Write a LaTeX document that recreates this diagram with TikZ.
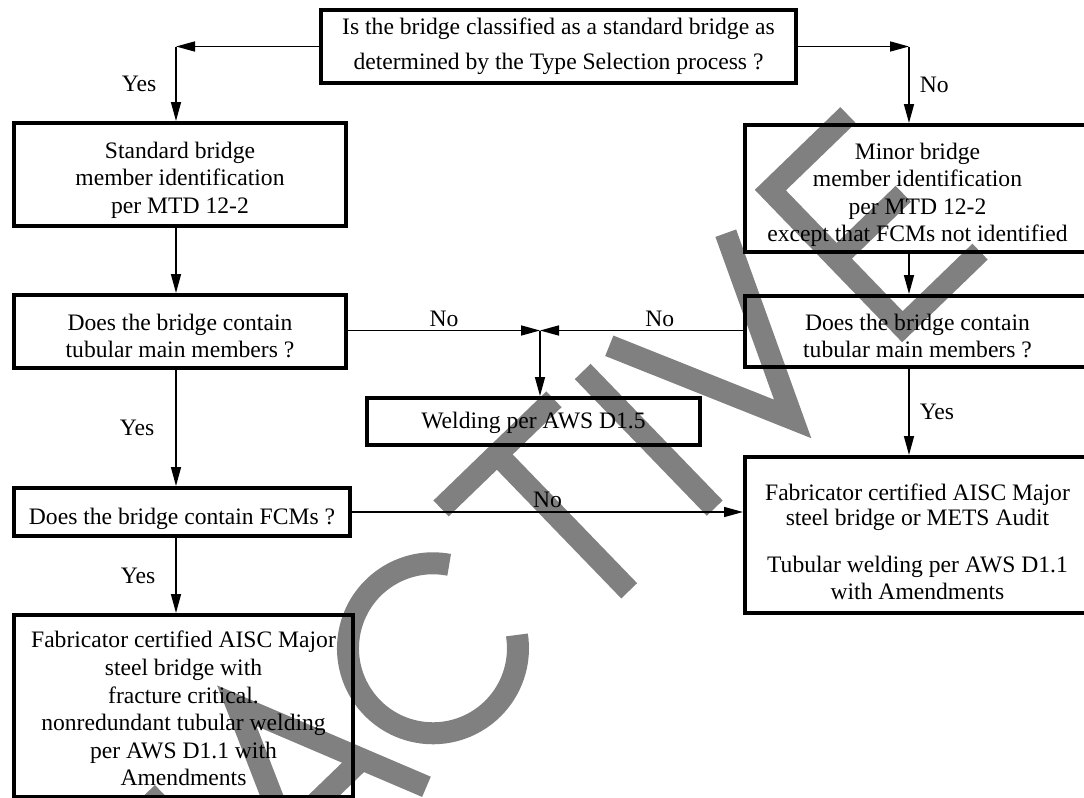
\documentclass[tikz,border=0pt]{standalone}
\usepackage{fontspec}
\setmainfont{Liberation Serif}
\usetikzlibrary{arrows.meta}
\definecolor{wmgray}{RGB}{128,128,128}
% invisible strut that pushes the text of a box down
\newcommand{\dropline}[1]{\rule{0pt}{#1}}

\begin{document}
\begin{tikzpicture}[x=0.5pt, y=-0.5pt,
  font=\fontsize{11.8}{13.8}\selectfont,
  >={Triangle[length=9.5pt,width=5pt]},
  box/.style={draw, line width=2pt, inner sep=0pt, align=center},
  link/.style={->, line width=0.8pt},
  lab/.style={inner sep=0pt},
  wmark/.style={draw=wmgray, line width=11pt, line join=miter}]
  \useasboundingbox (0,0) rectangle (1084,798);
  \clip (0,0) rectangle (1084,798);
  % watermark
  \begin{scope}[shift={(599,620)}, x={(0.3595pt,0.3475pt)}, y={(-0.3475pt,0.3595pt)}]
    \draw[wmark] (-640,0) -- (-640,190);
    \draw[wmark] (-590,0) -- (-590,190) -- (-445,0) -- (-445,190);
    \draw[wmark] (-400,0) -- (-320,190) -- (-240,0);
    \draw[wmark] (-372,65) -- (-268,65);
    \draw[wmark] (-69.4,143.8) arc[start angle=35, end angle=325, radius=85];
    \draw[wmark] (-36,190) -- (121,190);
    \draw[wmark] (42,190) -- (42,0);
    \draw[wmark] (161,0) -- (161,190);
    \draw[wmark] (198,190) -- (279,10) -- (360,190);
    \draw[wmark] (530,190) -- (422,190) -- (422,0) -- (530,0);
    \draw[wmark] (422,95) -- (515,95);
  \end{scope}
  % boxes
  \node[box, minimum width=237.5pt, minimum height=36.5pt] (top) at (558.5,46.5) {Is the bridge classified as a standard bridge as\\[3.5pt] determined by the Type Selection process ?};
  \node[box, minimum width=166pt, minimum height=51.5pt] (std) at (180,174.5) {\dropline{14pt}Standard bridge\\member identification\\per MTD 12-2};
  \node[box, minimum width=172.5pt, minimum height=63.5pt] (minor) at (917.5,188.5) {\dropline{14.5pt}Minor bridge\\member identification\\per MTD 12-2\\except that FCMs not identified};
  \node[box, minimum width=166pt, minimum height=36.5pt] (tubL) at (180,331.5) {\dropline{12.5pt}Does the bridge contain\\tubular main members ?};
  \node[box, minimum width=172.5pt, minimum height=35.5pt] (tubR) at (917.5,331.5) {\dropline{12.5pt}Does the bridge contain\\tubular main members ?};
  \node[box, minimum width=166.5pt, minimum height=23.5pt] (weld) at (533.5,421.5) {\dropline{10pt}Welding per AWS D1.5};
  \node[box, minimum width=168pt, minimum height=24pt] (fcm) at (182,512) {\dropline{15pt}Does the bridge contain FCMs ?};
  \node[box, minimum width=172.5pt, minimum height=78pt] (fabR) at (917.5,535) {\dropline{15.5pt}Fabricator certified AISC Major\\[-1.5pt] steel bridge or METS Audit\\[9.5pt] Tubular welding per AWS D1.1\\with Amendments};
  \node[box, minimum width=169.5pt, minimum height=91pt] (fabL) at (183.5,706) {\dropline{11pt}Fabricator certified AISC Major\\steel bridge with\\fracture critical.\\nonredundant tubular welding\\per AWS D1.1 with\\Amendments};
  % corners and junction
  \coordinate (cL) at (176,46.5);
  \coordinate (cR) at (909,46.5);
  \coordinate (j) at (540,330.5);
  % connectors
  \draw[link] (top.west) -- (cL);
  \draw[link] (cL) -- node[lab, left=9.5pt] {Yes} (cL |- std.north);
  \draw[link] (top.east) -- (cR);
  \draw[link] (cR) -- node[lab, right=5pt] {No} (cR |- minor.north);
  \draw[link] (cL |- std.south) -- (cL |- tubL.north);
  \draw[link] (cR |- minor.south) -- (cR |- tubR.north);
  \draw[link] (tubL.east |- j) -- node[lab, above=1.5pt] {No} (j);
  \draw[link] (tubR.west |- j) -- node[lab, above=1.5pt, pos=0.41] {No} (j);
  \draw[link] (j) -- (j |- weld.north);
  \draw[link] (cL |- tubL.south) -- node[lab, left=10.5pt] {Yes} (cL |- fcm.north);
  \draw[link] (cR |- tubR.south) -- node[lab, right=5pt] {Yes} (cR |- fabR.north);
  \draw[link] (fcm.east) -- node[lab, above=1.5pt] {No} (fcm.east -| fabR.west);
  \draw[link] (cL |- fcm.south) -- node[lab, left=10pt] {Yes} (cL |- fabL.north);
\end{tikzpicture}
\end{document}
